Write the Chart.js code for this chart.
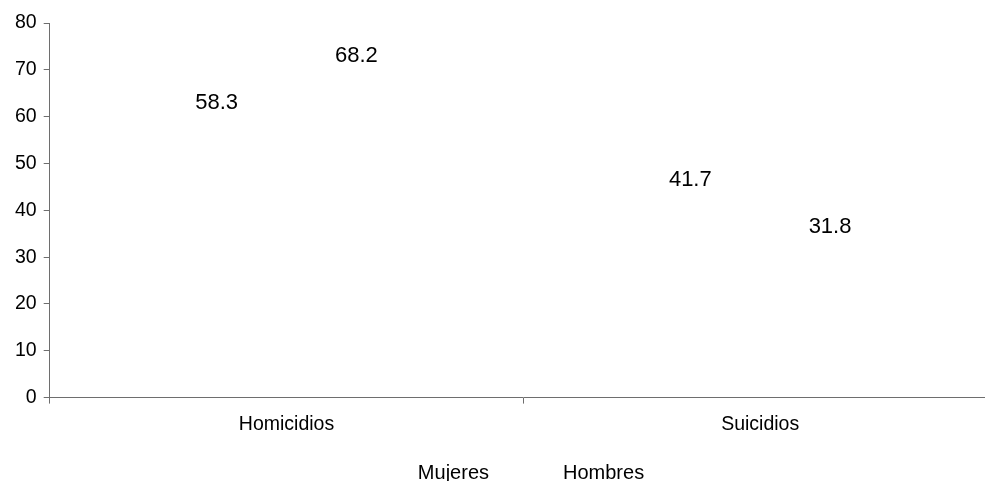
<!DOCTYPE html>
<html>
<head>
<meta charset="utf-8">
<script src="https://cdn.jsdelivr.net/npm/chart.js@4.4.1/dist/chart.umd.min.js"></script>
<style>
  html, body { margin: 0; padding: 0; background: #fff; overflow: hidden; }
  #wrap { width: 985px; height: 481px; overflow: hidden; }
</style>
</head>
<body>
<div id="wrap"><canvas id="chart" width="1000" height="493"></canvas></div>
<script>
const categories = ["Homicidios", "Suicidios"]
const mujeres = [58.3, 41.7]
const hombres = [68.2, 31.8]
const yTicks = [0, 10, 20, 30, 40, 50, 60, 70, 80]

const FONT = "'Liberation Sans', Arial, sans-serif"
const AXIS = "#6e6e6e"

// draws the value above each (invisible) bar
const valueLabels = {
  id: "valueLabels",
  afterDatasetsDraw(chart) {
    const { ctx } = chart
    ctx.save()
    ctx.font = "22px " + FONT
    ctx.fillStyle = "#000"
    ctx.textAlign = "center"
    ctx.textBaseline = "middle"
    chart.data.datasets.forEach((ds, i) => {
      chart.getDatasetMeta(i).data.forEach((bar, j) => {
        ctx.fillText(ds.data[j].toFixed(1), bar.x, bar.y - 22)
      })
    })
    ctx.restore()
  }
}

new Chart(document.getElementById("chart"), {
  type: "bar",
  data: {
    labels: categories,
    datasets: [
      { label: "Mujeres", data: mujeres, backgroundColor: "rgba(0,0,0,0)", borderWidth: 0 },
      { label: "Hombres", data: hombres, backgroundColor: "rgba(0,0,0,0)", borderWidth: 0 }
    ]
  },
  options: {
    responsive: false,
    animation: false,
    events: [],
    layout: { padding: { top: 23, left: 8, right: 3, bottom: 0 } },
    datasets: { bar: { categoryPercentage: 0.59, barPercentage: 1 } },
    scales: {
      x: {
        grid: { display: true, drawOnChartArea: false, offset: true, tickLength: 6, color: AXIS },
        border: { color: AXIS, width: 1 },
        ticks: { color: "#000", font: { family: FONT, size: 19.5 }, padding: 9.5 }
      },
      y: {
        min: 0,
        max: 80,
        afterBuildTicks(axis) { axis.ticks = yTicks.map(v => ({ value: v })) },
        grid: { display: true, drawOnChartArea: false, tickLength: 6, color: AXIS },
        border: { color: AXIS, width: 1 },
        ticks: { color: "#000", font: { family: FONT, size: 19.5 }, padding: 7 }
      }
    },
    plugins: {
      tooltip: { enabled: false },
      legend: {
        position: "bottom",
        labels: {
          color: "#000",
          font: { family: FONT, size: 20 },
          boxWidth: 47,
          padding: 17
        }
      }
    }
  },
  plugins: [valueLabels]
})
</script>
</body>
</html>
